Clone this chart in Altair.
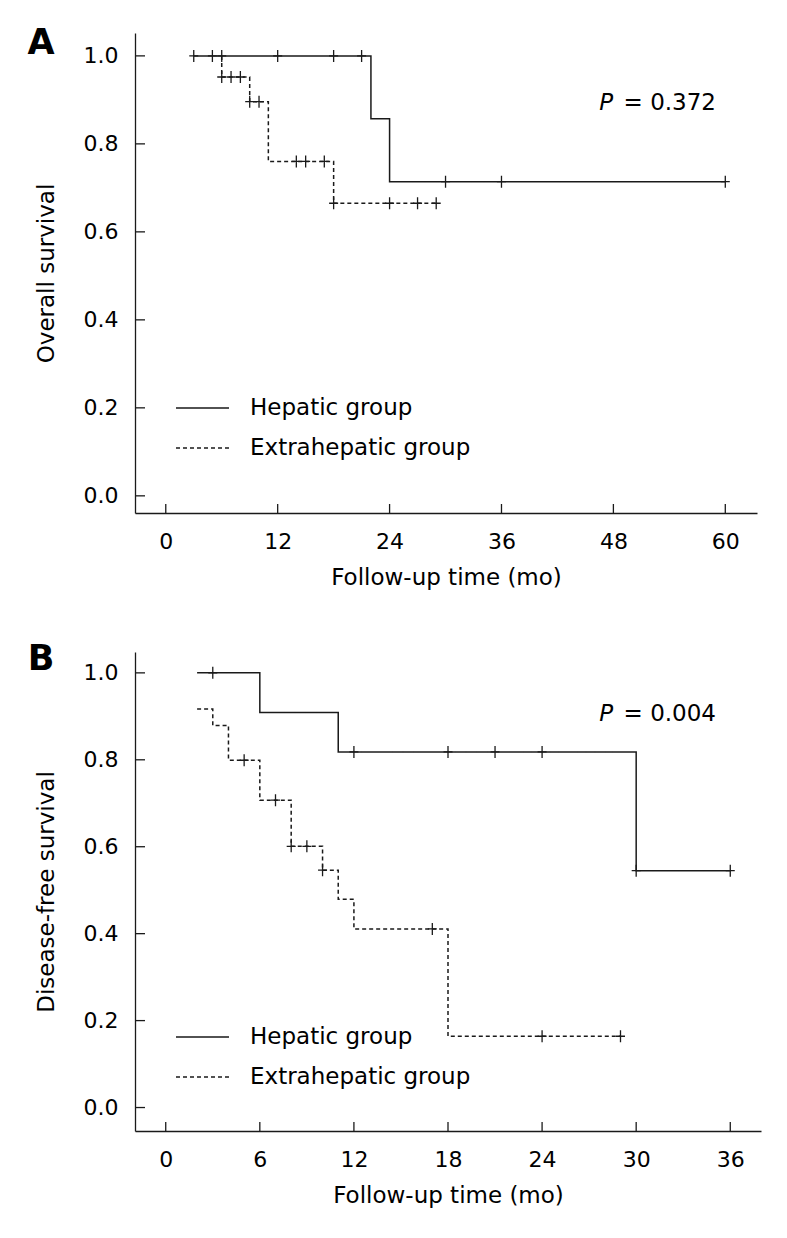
import altair as alt
import pandas as pd

FONT = "DejaVu Sans"
INK = "#1a1a1a"

groups = ["Hepatic group", "Extrahepatic group"]
y_ticks = [0.0, 0.2, 0.4, 0.6, 0.8, 1.0]

# ---------------- Panel A : overall survival ----------------
a_x_ticks = [0, 12, 24, 36, 48, 60]
a_hep_t = [3, 22, 24, 60]
a_hep_s = [1.0, 0.857, 0.714, 0.714]
a_ext_t = [6, 6, 9, 11, 18, 29]
a_ext_s = [1.0, 0.952, 0.896, 0.760, 0.665, 0.665]
a_hep_cens_t = [3, 5, 6, 12, 18, 21, 30, 36, 60]
a_hep_cens_s = [1.0, 1.0, 1.0, 1.0, 1.0, 1.0, 0.714, 0.714, 0.714]
a_ext_cens_t = [6, 7, 8, 9, 10, 14, 15, 17, 18, 24, 27, 29]
a_ext_cens_s = [0.952, 0.952, 0.952, 0.896, 0.896, 0.760, 0.760, 0.760,
                0.665, 0.665, 0.665, 0.665]
a_p = "0.372"

# ---------------- Panel B : disease-free survival ----------------
b_x_ticks = [0, 6, 12, 18, 24, 30, 36]
b_hep_t = [2, 6, 11, 30, 36]
b_hep_s = [1.0, 0.909, 0.818, 0.545, 0.545]
b_ext_t = [2, 3, 4, 6, 8, 10, 11, 12, 18, 29]
b_ext_s = [0.917, 0.879, 0.799, 0.707, 0.601, 0.546, 0.479, 0.411, 0.164, 0.164]
b_hep_cens_t = [3, 12, 18, 21, 24, 30, 36]
b_hep_cens_s = [1.0, 0.818, 0.818, 0.818, 0.818, 0.545, 0.545]
b_ext_cens_t = [5, 7, 8, 9, 10, 17, 24, 29]
b_ext_cens_s = [0.799, 0.707, 0.601, 0.601, 0.546, 0.411, 0.164, 0.164]
b_p = "0.004"

CROSS = "M-0.75,0L0.75,0M0,-1L0,1"


def curves(ht, hs, et, es):
    rows = []
    for i, (t, s) in enumerate(zip(ht, hs)):
        rows.append({"t": t, "s": s, "group": groups[0], "i": i})
    for i, (t, s) in enumerate(zip(et, es)):
        rows.append({"t": t, "s": s, "group": groups[1], "i": i})
    return pd.DataFrame(rows)


def censors(ht, hs, et, es):
    return pd.DataFrame({"t": list(ht) + list(et), "s": list(hs) + list(es)})


def panel(letter, ytitle, pval, cdf, kdf, xticks, xdom, ydom, W, H,
          letter_y, p_y, leg_y):
    x = alt.X("t:Q", scale=alt.Scale(domain=xdom, nice=False, zero=False),
              axis=alt.Axis(values=xticks, title="Follow-up time (mo)",
                            ticks=False, grid=False, domainColor=INK,
                            domainWidth=1.3, labelFont=FONT, labelFontSize=22,
                            labelColor="black", labelPadding=18,
                            titleFont=FONT, titleFontSize=23,
                            titleFontWeight="normal", titleColor="black",
                            titlePadding=14, labelFlush=False))
    y = alt.Y("s:Q", scale=alt.Scale(domain=ydom, nice=False, zero=False),
              axis=alt.Axis(values=y_ticks, format=".1f", title=ytitle,
                            ticks=False, grid=False, domainColor=INK,
                            domainWidth=1.3, labelFont=FONT, labelFontSize=22,
                            labelColor="black", labelPadding=17,
                            titleFont=FONT, titleFontSize=23,
                            titleFontWeight="normal", titleColor="black",
                            titlePadding=25, labelFlush=False))
    lines = alt.Chart(cdf).mark_line(
        interpolate="step-after", color=INK, strokeWidth=1.5
    ).encode(
        x=x, y=y,
        strokeDash=alt.StrokeDash(
            "group:N",
            scale=alt.Scale(domain=groups, range=[[1, 0], [4, 3]]),
            legend=alt.Legend(title=None, orient="none", legendX=40,
                              legendY=leg_y, symbolType="stroke",
                              symbolSize=2809, symbolStrokeWidth=1.5,
                              symbolStrokeColor=INK, labelFont=FONT,
                              labelFontSize=23, labelColor="black",
                              labelOffset=20, labelLimit=500,
                              clipHeight=40, rowPadding=0, padding=0)),
        detail="group:N",
        order="i:Q",
    )
    marks = alt.Chart(kdf).mark_point(
        shape=CROSS, size=144, filled=False, stroke=INK, strokeWidth=1.3,
        opacity=1
    ).encode(x=x, y=y)
    xt = alt.Chart(pd.DataFrame({"t": xticks})).mark_rule(
        color=INK, strokeWidth=1.3
    ).encode(x=x, y=alt.value(H), y2=alt.value(H - 9))
    yt = alt.Chart(pd.DataFrame({"s": y_ticks})).mark_rule(
        color=INK, strokeWidth=1.3
    ).encode(y=y, x=alt.value(0), x2=alt.value(10))
    lab = pd.DataFrame({"letter": [letter], "p": ["= " + pval], "pp": ["P"]})
    let_t = alt.Chart(lab).mark_text(
        font=FONT, fontSize=35, fontWeight="bold", color="black",
        align="center", baseline="middle"
    ).encode(text="letter:N", x=alt.value(-94), y=alt.value(letter_y))
    p_t = alt.Chart(lab).mark_text(
        font=FONT, fontSize=23, color="black", align="right",
        baseline="middle"
    ).encode(text="p:N", x=alt.value(581), y=alt.value(p_y))
    pp_t = alt.Chart(lab).mark_text(
        font=FONT, fontSize=23, fontStyle="italic", color="black",
        align="right", baseline="middle"
    ).encode(text="pp:N", x=alt.value(478), y=alt.value(p_y))
    return alt.layer(lines, marks, xt, yt, let_t, p_t, pp_t).properties(
        width=W, height=H,
        view=alt.ViewBackground(stroke="transparent", strokeWidth=0))


chart_a = panel("A", "Overall survival", a_p,
                curves(a_hep_t, a_hep_s, a_ext_t, a_ext_s),
                censors(a_hep_cens_t, a_hep_cens_s, a_ext_cens_t, a_ext_cens_s),
                a_x_ticks, [-3.3, 63.4], [-0.039, 1.052], 622, 480,
                10, 70, 355)
chart_b = panel("B", "Disease-free survival", b_p,
                curves(b_hep_t, b_hep_s, b_ext_t, b_ext_s),
                censors(b_hep_cens_t, b_hep_cens_s, b_ext_cens_t, b_ext_cens_s),
                b_x_ticks, [-1.96, 37.96], [-0.054, 1.048], 626, 479,
                7, 62, 365)

chart = alt.vconcat(chart_a, chart_b, spacing=53).resolve_scale(
    strokeDash="independent", x="independent", y="independent"
).resolve_legend(strokeDash="independent").properties(
    padding={"left": 19, "top": 18, "right": 5, "bottom": 5}
).configure_view(strokeWidth=0, stroke="transparent").configure(
    background="white")

chart.save("out.html", embed_options={"renderer": "svg", "actions": False})
